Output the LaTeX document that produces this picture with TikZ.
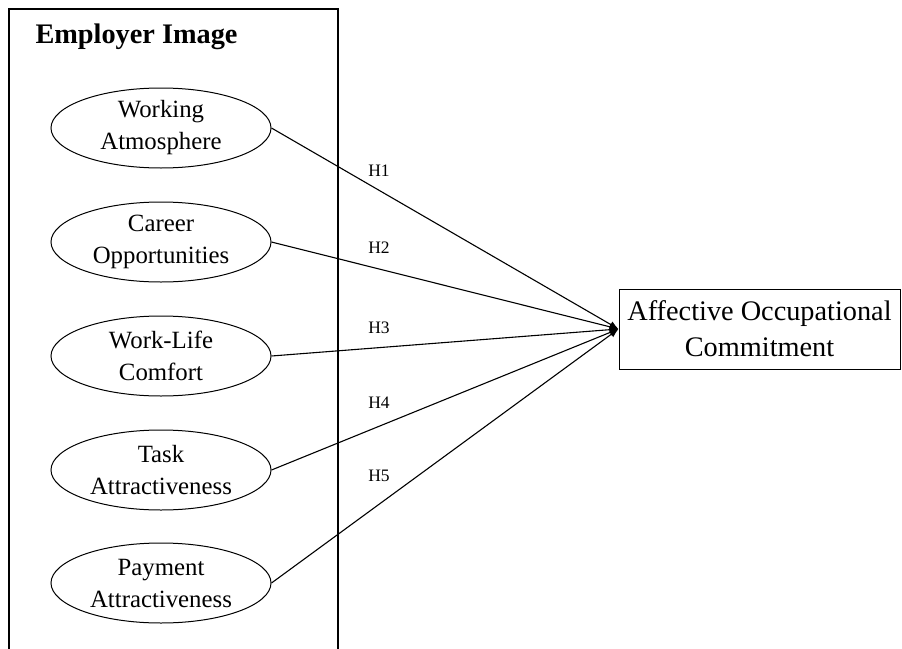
\documentclass[tikz,border=0pt]{standalone}
\usepackage{fontspec}
\setmainfont{Liberation Serif}
\usetikzlibrary{shapes.geometric, arrows.meta, positioning}

\begin{document}
\begin{tikzpicture}[
		x=1pt, y=-1pt,
		% Define styles for the nodes and links
		group_box/.style={
			draw,
			line width=1.1pt
		},
		factor_node/.style={
			ellipse,
			draw,
			line width=1pt,
			minimum width=220pt,
			minimum height=80pt,
			inner sep=0pt,
			align=center,
			font=\fontsize{24.8}{32}\selectfont
		},
		outcome_node/.style={
			rectangle,
			draw,
			line width=1pt,
			minimum width=281pt,
			minimum height=80pt,
			align=center,
			font=\fontsize{28.3}{36}\selectfont
		},
		hyp_label/.style={
			font=\fontsize{17.5}{20}\selectfont
		},
		link_style/.style={
			-{Latex[length=9pt,width=7pt]},
			line width=1.1pt,
			draw=black
		},
		]
		
		\clip (0,0) rectangle (902,648);
		\fill[white] (0,0) rectangle (902,648);
		
		% ----- Nodes -----
		% Employer image group
		\draw[group_box] (9,9) rectangle (338,660);
		\node[anchor=west, font=\bfseries\fontsize{28.3}{32}\selectfont] (title) at (32,37) {Employer Image};
		
		% Employer image dimensions
		\node[factor_node] (atmosphere) at (161,128) {Working\\Atmosphere};
		\node[factor_node] (career) at (161,242) {Career\\Opportunities};
		\node[factor_node] (worklife) at (161,356) {Work-Life\\Comfort};
		\node[factor_node] (task) at (161,470) {Task\\Attractiveness};
		\node[factor_node] (payment) at (161,583) {Payment\\Attractiveness};
		
		% Outcome
		\node[outcome_node] (commitment) at (759.5,329) {Affective Occupational\\Commitment};
		
		% ----- Arrows -----
		\draw[link_style] (atmosphere.east) -- (commitment.west);
		\draw[link_style] (career.east) -- (commitment.west);
		\draw[link_style] (worklife.east) -- (commitment.west);
		\draw[link_style] (task.east) -- (commitment.west);
		\draw[link_style] (payment.east) -- (commitment.west);
		
		% Hypothesis labels
		\node[hyp_label] (h1) at (379,171) {H1};
		\node[hyp_label] (h2) at (379,248) {H2};
		\node[hyp_label] (h3) at (379,328) {H3};
		\node[hyp_label] (h4) at (379,403) {H4};
		\node[hyp_label] (h5) at (379,476) {H5};
		
	\end{tikzpicture}
\end{document}
